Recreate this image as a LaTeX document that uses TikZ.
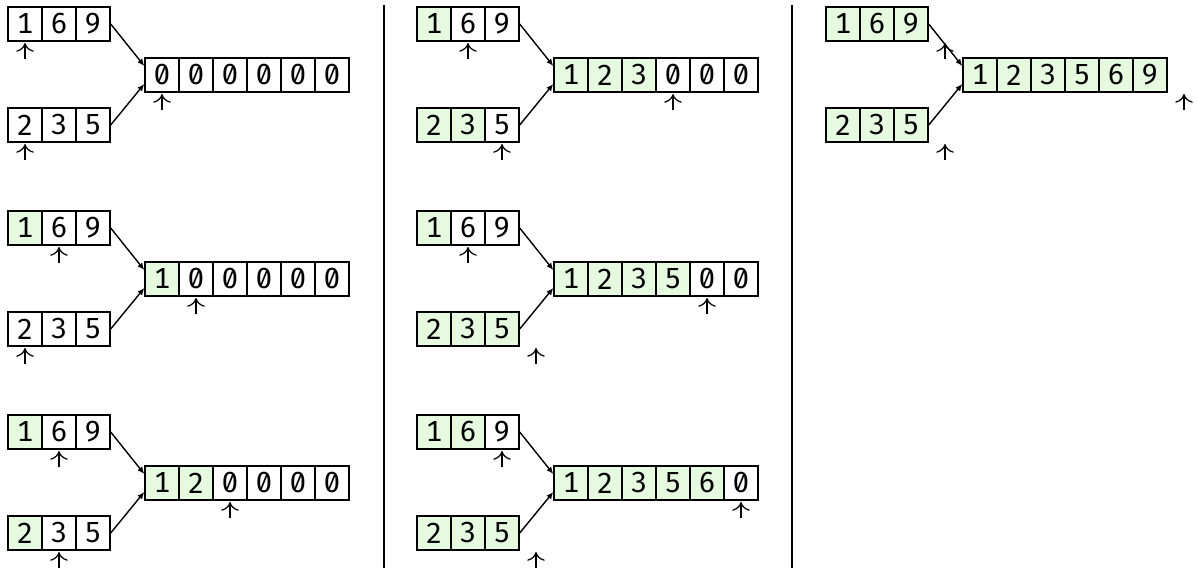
\documentclass[tikz,border=0pt]{standalone}
\usepackage{fontspec}
\newfontfamily\cellfont[Numbers={SlashedZero,Monospaced}]{Fira Sans}
\usetikzlibrary{arrows.meta}
\definecolor{usedgreen}{RGB}{230,250,224}
\tikzset{
  cell/.style={draw, line width=0.8pt, minimum size=0.68cm, inner sep=0pt, font=\cellfont\fontsize{16.5}{16.5}\selectfont},
  used/.style={cell, fill=usedgreen},
  ptr/.style={-{To[length=5pt,width=10pt]}, line width=0.7pt},
  feed/.style={-{Latex[length=4pt,width=3.5pt]}, line width=0.8pt},
}

\begin{document}
\begin{tikzpicture}[x=0.02cm,y=-0.02cm]
\useasboundingbox (0,0) rectangle (1197,568);

\foreach \n/\x/\y/\fa/\fb/\cells/\fc in {
    1/8/7/0/0/{0,0,0,0,0,0}/0,
    2/8/211/1/0/{1,0,0,0,0,0}/1,
    3/8/415/1/1/{1,2,0,0,0,0}/2,
    4/417/7/1/2/{1,2,3,0,0,0}/3,
    5/417/211/1/3/{1,2,3,5,0,0}/4,
    6/417/415/2/3/{1,2,3,5,6,0}/5,
    7/826/7/3/3/{1,2,3,5,6,9}/6} {
    % first input
    \foreach \v [count=\i from 0] in {1,6,9} {
        \ifnum\i<\fa \def\st{used}\else\def\st{cell}\fi
        \node[\st] (a\n-\i) at (\x+17+34*\i,\y+17) {\v};
    }
    % second input
    \foreach \v [count=\i from 0] in {2,3,5} {
        \ifnum\i<\fb \def\st{used}\else\def\st{cell}\fi
        \node[\st] (b\n-\i) at (\x+17+34*\i,\y+118) {\v};
    }
    % merged output
    \foreach \v [count=\i from 0] in \cells {
        \ifnum\i<\fc \def\st{used}\else\def\st{cell}\fi
        \node[\st] (c\n-\i) at (\x+154+34*\i,\y+68) {\v};
    }

    \draw[feed] (a\n-2.east) -- ([yshift=0.18cm]c\n-0.west);
    \draw[feed] (b\n-2.east) -- ([yshift=-0.18cm]c\n-0.west);

    % read and write positions
    \draw[ptr] (\x+17+34*\fa,\y+52) -- (\x+17+34*\fa,\y+36);
    \draw[ptr] (\x+17+34*\fb,\y+153) -- (\x+17+34*\fb,\y+137);
    \draw[ptr] (\x+154+34*\fc,\y+103) -- (\x+154+34*\fc,\y+87);
}

\draw[line width=0.8pt] (384,5) -- (384,568);
\draw[line width=0.8pt] (792,5) -- (792,568);
\end{tikzpicture}
\end{document}
